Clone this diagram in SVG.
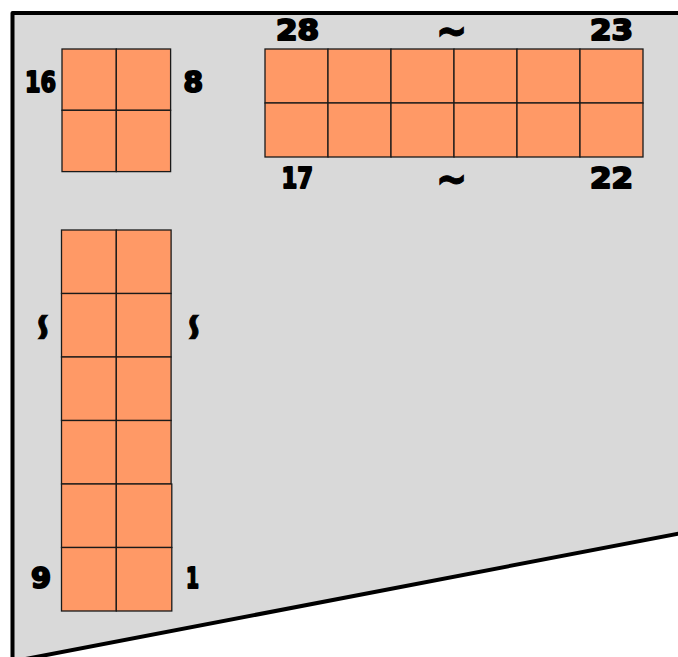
<svg xmlns="http://www.w3.org/2000/svg" width="678" height="657" viewBox="0 0 678 657">
<style>
.cell{fill:#ff9966;stroke:#1a1a1a;stroke-width:1.3}
.lbl{font-family:"DejaVu Sans",sans-serif;font-weight:bold;font-size:28px;fill:#000;stroke:#000;stroke-width:2;stroke-linejoin:round}
.til{font-family:"DejaVu Sans",sans-serif;font-weight:bold;font-size:27px;fill:#000;stroke:#000;stroke-width:0.6;text-anchor:middle}
</style>
<polygon points="12.5,661.5 12.5,13 692,13 692,531" fill="#d9d9d9" stroke="#000" stroke-width="4" stroke-linejoin="round"/>
<g id="block-8-16">
<rect class="cell" x="62" y="49" width="54.3" height="61.3"/>
<rect class="cell" x="116.3" y="49" width="54.3" height="61.3"/>
<rect class="cell" x="62" y="110.3" width="54.3" height="61.3"/>
<rect class="cell" x="116.3" y="110.3" width="54.3" height="61.3"/>
</g>
<g id="block-17-28">
<rect class="cell" x="265" y="49" width="63" height="54"/>
<rect class="cell" x="328" y="49" width="63" height="54"/>
<rect class="cell" x="391" y="49" width="63" height="54"/>
<rect class="cell" x="454" y="49" width="63" height="54"/>
<rect class="cell" x="517" y="49" width="63" height="54"/>
<rect class="cell" x="580" y="49" width="63" height="54"/>
<rect class="cell" x="265" y="103" width="63" height="54"/>
<rect class="cell" x="328" y="103" width="63" height="54"/>
<rect class="cell" x="391" y="103" width="63" height="54"/>
<rect class="cell" x="454" y="103" width="63" height="54"/>
<rect class="cell" x="517" y="103" width="63" height="54"/>
<rect class="cell" x="580" y="103" width="63" height="54"/>
</g>
<g id="block-1-9">
<rect class="cell" x="61.5" y="230" width="54.8" height="63.5"/>
<rect class="cell" x="116.3" y="230" width="54.8" height="63.5"/>
<rect class="cell" x="61.5" y="293.5" width="54.8" height="63.5"/>
<rect class="cell" x="116.3" y="293.5" width="54.8" height="63.5"/>
<rect class="cell" x="61.5" y="357" width="54.8" height="63.5"/>
<rect class="cell" x="116.3" y="357" width="54.8" height="63.5"/>
<rect class="cell" x="61.5" y="420.5" width="54.8" height="63.5"/>
<rect class="cell" x="116.3" y="420.5" width="54.8" height="63.5"/>
<rect class="cell" x="61.5" y="484" width="54.8" height="63.5"/>
<rect class="cell" x="116.3" y="484" width="55.5" height="63.5"/>
<rect class="cell" x="61.5" y="547.5" width="54.8" height="63.5"/>
<rect class="cell" x="116.3" y="547.5" width="55.5" height="63.5"/>
</g>
<g id="labels">
<text class="lbl" x="25" y="92" textLength="31" lengthAdjust="spacingAndGlyphs">16</text>
<text class="lbl" x="183.5" y="92" textLength="19.5" lengthAdjust="spacingAndGlyphs">8</text>
<text class="lbl" x="276" y="39.5" textLength="43" lengthAdjust="spacingAndGlyphs">28</text>
<text class="lbl" x="590" y="39.5" textLength="43" lengthAdjust="spacingAndGlyphs">23</text>
<text class="lbl" x="281.5" y="188" textLength="31.5" lengthAdjust="spacingAndGlyphs">17</text>
<text class="lbl" x="590" y="188" textLength="43" lengthAdjust="spacingAndGlyphs">22</text>
<text class="lbl" x="31" y="588" textLength="20" lengthAdjust="spacingAndGlyphs">9</text>
<text class="lbl" x="186" y="588" textLength="13" lengthAdjust="spacingAndGlyphs">1</text>
<text class="til" transform="translate(451.5,31) scale(1.4,1.7)" x="0" y="8.6">~</text>
<text class="til" transform="translate(451.5,179) scale(1.4,1.7)" x="0" y="8.6">~</text>
<text class="til" transform="translate(42.5,327) rotate(90) scale(1.4,-1.7)" x="0" y="8.6">~</text>
<text class="til" transform="translate(193.5,327) rotate(90) scale(1.4,-1.7)" x="0" y="8.6">~</text>
</g>
</svg>
